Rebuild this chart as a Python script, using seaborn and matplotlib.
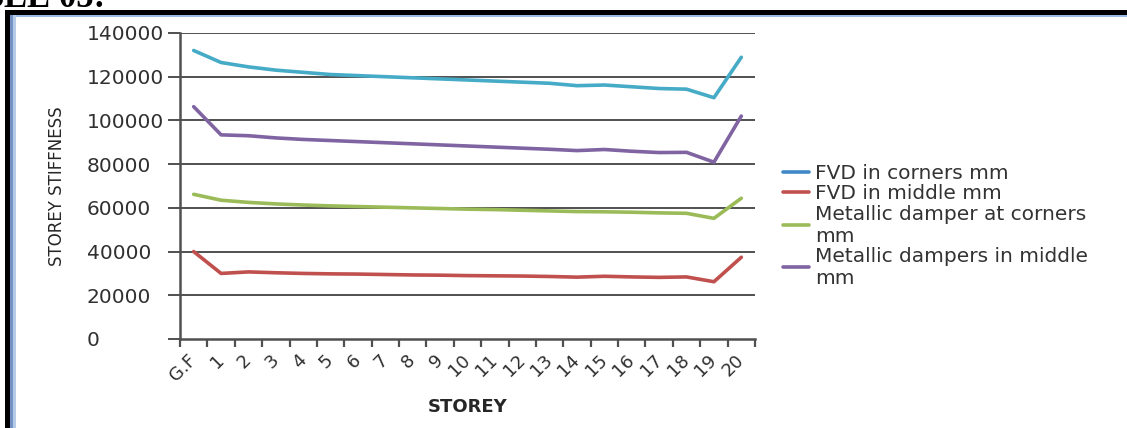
import matplotlib
matplotlib.use("Agg")
import matplotlib.pyplot as plt
from matplotlib.lines import Line2D
from matplotlib.patches import Rectangle
from matplotlib.ticker import FixedLocator, NullFormatter
import seaborn as sns
import pandas as pd
import numpy as np

# Storey stiffness per floor for the four damper layouts
storeys = ["G.F", "1", "2", "3", "4", "5", "6", "7", "8", "9", "10",
           "11", "12", "13", "14", "15", "16", "17", "18", "19", "20"]

fvd_corners = [132000, 126500, 124500, 123000, 122000, 121000, 120500, 120000,
               119500, 119000, 118500, 118000, 117500, 117000, 115900, 116200,
               115400, 114600, 114300, 110400, 128900]
fvd_middle = [40000, 30000, 30700, 30300, 30000, 29800, 29700, 29500, 29300,
              29200, 29000, 28900, 28800, 28600, 28300, 28700, 28400, 28200,
              28400, 26200, 37400]
metallic_corners = [66200, 63500, 62500, 61800, 61300, 60900, 60600, 60300,
                    60000, 59700, 59400, 59200, 58900, 58600, 58300, 58200,
                    58000, 57700, 57500, 55200, 64400]
metallic_middle = [106300, 93400, 93000, 92000, 91300, 90800, 90300, 89800,
                   89300, 88800, 88300, 87800, 87300, 86800, 86200, 86700,
                   85900, 85300, 85400, 80900, 102000]

series_names = ["FVD in corners mm", "FVD in middle mm",
                "Metallic damper at corners\nmm",
                "Metallic dampers in middle\nmm"]
series_values = [fvd_corners, fvd_middle, metallic_corners, metallic_middle]
line_colors = ["#46abc6", "#c0504d", "#9bbb59", "#8064a2"]
legend_colors = ["#3f88c8", "#c0504d", "#9bbb59", "#8064a2"]

y_ticks = [0, 20000, 40000, 60000, 80000, 100000, 120000, 140000]

frames = []
for name, vals in zip(series_names, series_values):
    frames.append(pd.DataFrame({"pos": np.arange(len(storeys)),
                                "stiffness": vals, "series": name}))
df = pd.concat(frames, ignore_index=True)

sns.set_theme(style="white")
plt.rcParams["font.family"] = ["DejaVu Sans"]

W, H = 1127, 428
fig = plt.figure(figsize=(W / 100, H / 100), dpi=100)
fig.patch.set_facecolor("white")

# axes box in pixel terms: x 180..755, y 33..339
ax = fig.add_axes([180 / W, 1 - 339 / H, (755 - 180) / W, (339 - 33) / H])

sns.lineplot(data=df, x="pos", y="stiffness", hue="series",
             hue_order=series_names, palette=line_colors, linewidth=2.6,
             ax=ax, legend=False, sort=False)

ax.set_xlim(-0.5, len(storeys) - 0.5)
ax.set_ylim(0, 140000)
ax.set_xlabel("")
ax.set_ylabel("")

# horizontal gridlines
for yv in y_ticks[1:]:
    ax.axhline(yv, color="#505050", lw=1.4, zorder=0.5)

for side in ["top", "right"]:
    ax.spines[side].set_visible(False)
for side in ["left", "bottom"]:
    ax.spines[side].set_color("#505050")
    ax.spines[side].set_linewidth(1.8)

# y axis: outward ticks, left-aligned labels
ax.set_yticks(y_ticks)
ax.set_yticklabels([str(v) for v in y_ticks])
ax.tick_params(axis="y", length=9, width=1.4, color="#505050",
               labelsize=14.5, labelcolor="#303030", pad=58, left=True)
for lab in ax.get_yticklabels():
    lab.set_horizontalalignment("left")

# x axis: tick marks between categories, labels at category centres
ax.xaxis.set_minor_locator(FixedLocator(np.arange(-0.5, len(storeys), 1.0)))
ax.xaxis.set_minor_formatter(NullFormatter())
ax.set_xticks(np.arange(len(storeys)))
ax.set_xticklabels(storeys, rotation=45, ha="right", rotation_mode="anchor")
ax.tick_params(axis="x", which="major", length=0, pad=13, labelsize=13,
               labelcolor="#303030")
ax.tick_params(axis="x", which="minor", length=6, width=1.6,
               color="#505050", bottom=True, direction="out")
for lab in ax.get_xticklabels():
    lab.set_verticalalignment("center")

fig.text(57.5 / W, 1 - 186 / H, "STOREY STIFFNESS", rotation=90,
         ha="center", va="center", fontsize=12, color="#262626")
fig.text(468 / W, 1 - 407 / H, "STOREY", ha="center", va="center",
         fontsize=13, fontweight="bold", color="#262626")

handles = [Line2D([0], [0], color=c, lw=2.6) for c in legend_colors]
fig.legend(handles, series_names, loc="center left",
           bbox_to_anchor=(783 / W, 1 - 226 / H), frameon=False,
           fontsize=14.5, labelcolor="#333333", handlelength=1.3,
           handletextpad=0.3, labelspacing=0.05, borderpad=0,
           borderaxespad=0)

# page frame around the figure
fig.add_artist(Rectangle((5 / W, 1 - 15 / H), 1 - 5 / W, 5 / H,
                         transform=fig.transFigure, color="black", lw=0))
fig.add_artist(Rectangle((5 / W, 0), 5 / W, 1 - 10 / H,
                         transform=fig.transFigure, color="black", lw=0))
fig.add_artist(Rectangle((10 / W, 1 - 16.5 / H), 1 - 10 / W, 1.5 / H,
                         transform=fig.transFigure, color="#9dbbe0", lw=0))
fig.add_artist(Rectangle((10 / W, 0), 3 / W, 1 - 15 / H,
                         transform=fig.transFigure, color="#7593c4", lw=0))
fig.add_artist(Rectangle((13 / W, 0), 3 / W, 1 - 15 / H,
                         transform=fig.transFigure, color="#b5cbe8", lw=0))

# caption above the frame
fig.text(105 / W, 1 - 7 / H, "TABLE 05:", ha="right", va="baseline",
         fontsize=25, fontweight="bold", family="Liberation Serif",
         color="black")

fig.savefig("out.png", dpi=100, facecolor="white")
